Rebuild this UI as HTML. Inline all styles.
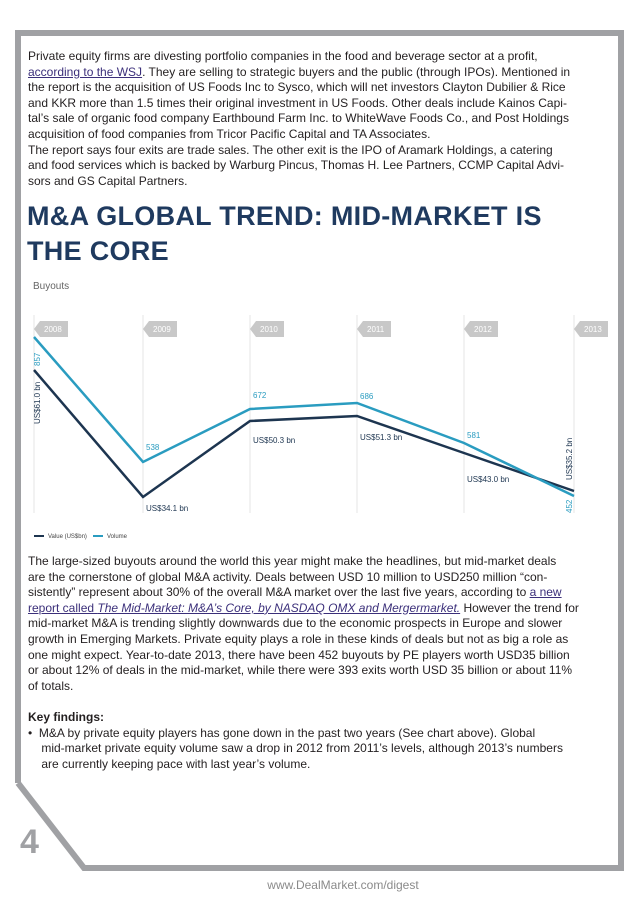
<!DOCTYPE html>
<html><head><meta charset="utf-8"><style>
html,body{margin:0;padding:0;background:#fff;}
body{width:638px;height:903px;position:relative;overflow:hidden;font-family:"Liberation Sans",sans-serif;color:#231f20;}
.t{position:absolute;left:28px;font-size:12px;line-height:15.6px;white-space:nowrap;}
.t div{height:15.6px;}
a{color:#3b2f7a;text-decoration:underline;}
h1{position:absolute;left:27px;top:199px;margin:0;font-size:27px;line-height:35px;font-weight:bold;color:#1f3a5f;letter-spacing:0.3px;}
</style></head><body>
<svg width="638" height="903" style="position:absolute;left:0;top:0">
<polyline points="18,783 18,33 621,33 621,868 84,868 18,783" fill="none" stroke="#a0a1a4" stroke-width="6"/>
<text x="20" y="853" font-family="Liberation Sans,sans-serif" font-size="34" font-weight="bold" fill="#a0a1a4">4</text>
<text x="343" y="889" text-anchor="middle" font-family="Liberation Sans,sans-serif" font-size="12" fill="#8a8a8a">www.DealMarket.com/digest</text>
<text x="33" y="289" font-family="Liberation Sans,sans-serif" font-size="10" fill="#666">Buyouts</text>
<g stroke="#e6e6e6" stroke-width="1">
<line x1="34" y1="315" x2="34" y2="513"/><line x1="143" y1="315" x2="143" y2="513"/>
<line x1="250" y1="315" x2="250" y2="513"/><line x1="357" y1="315" x2="357" y2="513"/>
<line x1="464" y1="315" x2="464" y2="513"/><line x1="574" y1="315" x2="574" y2="513"/>
</g>
<g font-family="Liberation Sans,sans-serif" font-size="8" fill="#fff">
<g fill="#c8c8c8">
<polygon points="40,321 68,321 68,337 40,337 34,329"/>
<polygon points="149,321 177,321 177,337 149,337 143,329"/>
<polygon points="256,321 284,321 284,337 256,337 250,329"/>
<polygon points="363,321 391,321 391,337 363,337 357,329"/>
<polygon points="470,321 498,321 498,337 470,337 464,329"/>
<polygon points="580,321 608,321 608,337 580,337 574,329"/>
</g>
<text x="44" y="332">2008</text><text x="153" y="332">2009</text><text x="260" y="332">2010</text>
<text x="367" y="332">2011</text><text x="474" y="332">2012</text><text x="584" y="332">2013</text>
</g>
<polyline points="34,370 143,497 250,421 357,416 464,453 574,491" fill="none" stroke="#1d3550" stroke-width="2.5"/>
<polyline points="34,337 143,462 250,409 357,403 464,443 574,496" fill="none" stroke="#2a9cc0" stroke-width="2.5"/>
<g font-family="Liberation Sans,sans-serif" font-size="8">
<text fill="#2a9cc0" transform="translate(40,366) rotate(-90)">857</text>
<text fill="#1d3550" transform="translate(40,424) rotate(-90)">US$61.0 bn</text>
<text fill="#2a9cc0" x="146" y="450">538</text>
<text fill="#1d3550" x="146" y="511">US$34.1 bn</text>
<text fill="#2a9cc0" x="253" y="398">672</text>
<text fill="#1d3550" x="253" y="443">US$50.3 bn</text>
<text fill="#2a9cc0" x="360" y="399">686</text>
<text fill="#1d3550" x="360" y="440">US$51.3 bn</text>
<text fill="#2a9cc0" x="467" y="438">581</text>
<text fill="#1d3550" x="467" y="482">US$43.0 bn</text>
<text fill="#1d3550" transform="translate(572,480) rotate(-90)">US$35.2 bn</text>
<text fill="#2a9cc0" transform="translate(572,513) rotate(-90)">452</text>
</g>
<line x1="34" y1="536" x2="44" y2="536" stroke="#1d3550" stroke-width="2"/>
<text x="48" y="538" font-family="Liberation Sans,sans-serif" font-size="6" fill="#444">Value (US$bn)</text>
<line x1="93" y1="536" x2="103" y2="536" stroke="#2a9cc0" stroke-width="2"/>
<text x="107" y="538" font-family="Liberation Sans,sans-serif" font-size="6" fill="#444">Volume</text>
</svg>

<div class="t" style="top:49px">
<div>Private equity firms are divesting portfolio companies in the food and beverage sector at a profit,</div>
<div><a>according to the WSJ</a>. They are selling to strategic buyers and the public (through IPOs). Mentioned in</div>
<div>the report is the acquisition of US Foods Inc to Sysco, which will net investors Clayton Dubilier &amp; Rice</div>
<div>and KKR more than 1.5 times their original investment in US Foods. Other deals include Kainos Capi-</div>
<div>tal’s sale of organic food company Earthbound Farm Inc. to WhiteWave Foods Co., and Post Holdings</div>
<div>acquisition of food companies from Tricor Pacific Capital and TA Associates.</div>
<div>The report says four exits are trade sales. The other exit is the IPO of Aramark Holdings, a catering</div>
<div>and food services which is backed by Warburg Pincus, Thomas H. Lee Partners, CCMP Capital Advi-</div>
<div>sors and GS Capital Partners.</div>
</div>

<h1>M&amp;A GLOBAL TREND: MID-MARKET IS<br>THE CORE</h1>

<div class="t" style="top:554px">
<div>The large-sized buyouts around the world this year might make the headlines, but mid-market deals</div>
<div>are the cornerstone of global M&amp;A activity. Deals between USD 10 million to USD250 million “con-</div>
<div>sistently” represent about 30% of the overall M&amp;A market over the last five years, according to <a>a new</a></div>
<div><a>report called <i>The Mid-Market: M&amp;A’s Core, by NASDAQ OMX and Mergermarket.</i></a> However the trend for</div>
<div>mid-market M&amp;A is trending slightly downwards due to the economic prospects in Europe and slower</div>
<div>growth in Emerging Markets. Private equity plays a role in these kinds of deals but not as big a role as</div>
<div>one might expect. Year-to-date 2013, there have been 452 buyouts by PE players worth USD35 billion</div>
<div>or about 12% of deals in the mid-market, while there were 393 exits worth USD 35 billion or about 11%</div>
<div>of totals.</div>
<div></div>
<div><b>Key findings:</b></div>
<div>•&nbsp; M&amp;A by private equity players has gone down in the past two years (See chart above). Global</div>
<div>&nbsp;&nbsp;&nbsp; mid-market private equity volume saw a drop in 2012 from 2011’s levels, although 2013’s numbers</div>
<div>&nbsp;&nbsp;&nbsp; are currently keeping pace with last year’s volume.</div>
</div>
</body></html>
